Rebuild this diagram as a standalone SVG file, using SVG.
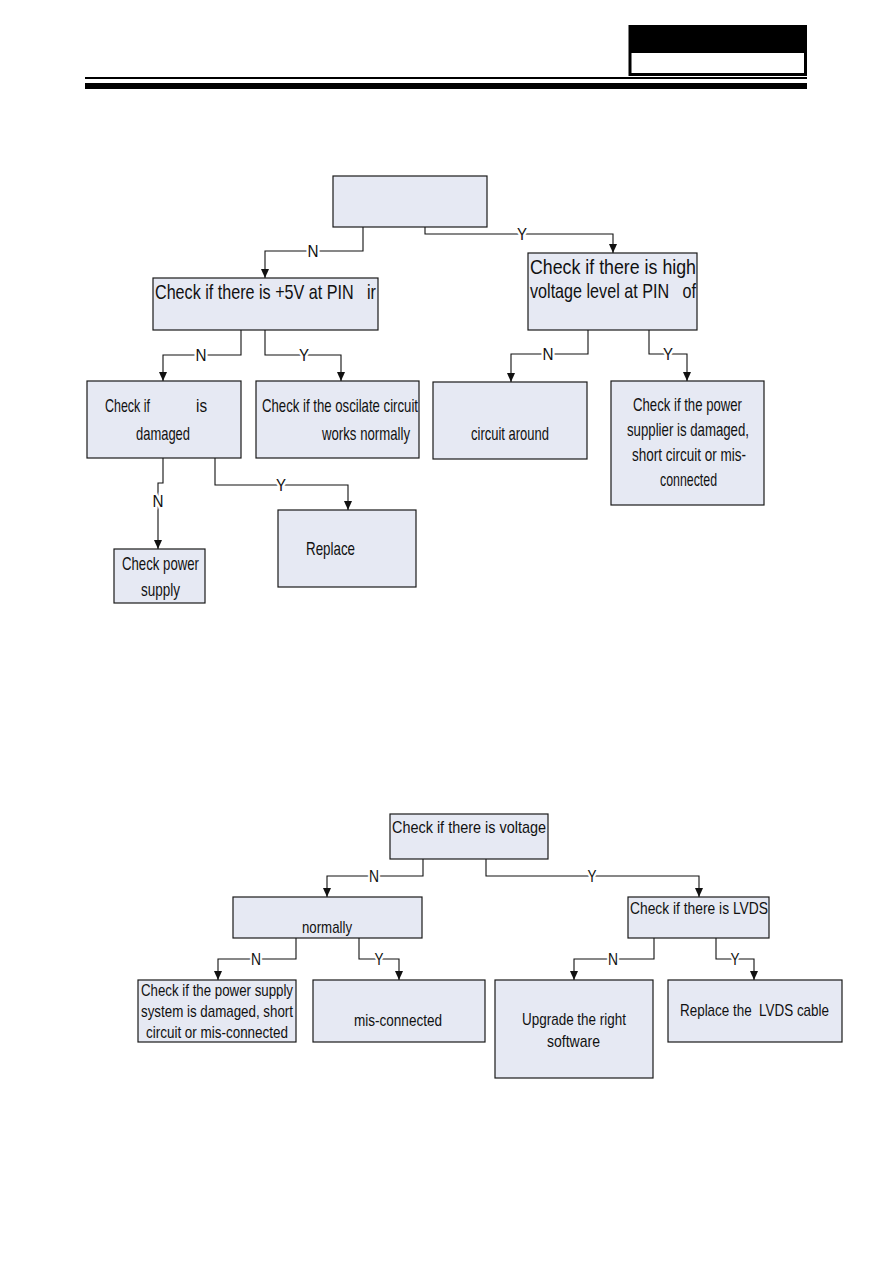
<svg xmlns="http://www.w3.org/2000/svg" width="893" height="1263" viewBox="0 0 893 1263">
<style>
.box{fill:#e6e9f3;stroke:#1a1a1a;stroke-width:1.2}
.t{font-family:"Liberation Sans",Arial,sans-serif;font-size:19px;fill:#111;white-space:pre}
.tb{font-size:21px}
.ts{font-size:17px}
.c{fill:none;stroke:#111;stroke-width:1.1;marker-end:url(#ah)}
.lb{font-family:"Liberation Sans",Arial,sans-serif;font-size:17px;fill:#111;text-anchor:middle;stroke:#fff;stroke-width:5;paint-order:stroke}
</style>
<defs>
<marker id="ah" markerWidth="9" markerHeight="8" refX="9" refY="4" orient="auto" markerUnits="userSpaceOnUse" viewBox="0 0 9 8">
<path d="M0,0 L9,4 L0,8 Z" fill="#111"/>
</marker>
</defs>
<rect width="893" height="1263" fill="#fff"/>
<g id="header">
<rect x="630" y="26.5" width="175.5" height="48" fill="#fff" stroke="#000" stroke-width="3"/>
<rect x="629" y="25" width="178" height="28" fill="#000"/>
<rect x="85" y="77" width="722" height="2" fill="#000"/>
<rect x="85" y="83" width="722" height="6" fill="#000"/>
</g>
<g id="connectors">
<polyline class="c" points="363,227 363,251 265,251 265,278"/>
<polyline class="c" points="425,227 425,234 613,234 613,253"/>
<polyline class="c" points="241,330 241,355 163,355 163,381"/>
<polyline class="c" points="265,330 265,355 341,355 341,381"/>
<polyline class="c" points="588,330 588,354 511,354 511,382"/>
<polyline class="c" points="649,330 649,354 687,354 687,381"/>
<polyline class="c" points="163,458 163,483 158,483 158,549"/>
<polyline class="c" points="215,458 215,485 348,485 348,510"/>
<polyline class="c" points="423,859 423,876 327,876 327,897"/>
<polyline class="c" points="486,859 486,876 699,876 699,897"/>
<polyline class="c" points="296,938 296,959 218,959 218,980"/>
<polyline class="c" points="359,938 359,959 399,959 399,980"/>
<polyline class="c" points="654,938 654,959 574,959 574,980"/>
<polyline class="c" points="716,938 716,959 754,959 754,980"/>
<text class="lb" x="313" y="257" textLength="11" lengthAdjust="spacingAndGlyphs">N</text>
<text class="lb" x="522" y="240" textLength="10" lengthAdjust="spacingAndGlyphs">Y</text>
<text class="lb" x="201" y="361" textLength="11" lengthAdjust="spacingAndGlyphs">N</text>
<text class="lb" x="304" y="361" textLength="10" lengthAdjust="spacingAndGlyphs">Y</text>
<text class="lb" x="548" y="360" textLength="11" lengthAdjust="spacingAndGlyphs">N</text>
<text class="lb" x="668" y="360" textLength="10" lengthAdjust="spacingAndGlyphs">Y</text>
<text class="lb" x="158" y="507" textLength="11" lengthAdjust="spacingAndGlyphs">N</text>
<text class="lb" x="281" y="491" textLength="10" lengthAdjust="spacingAndGlyphs">Y</text>
<text class="lb" x="374" y="882" textLength="10" lengthAdjust="spacingAndGlyphs">N</text>
<text class="lb" x="592" y="882" textLength="9" lengthAdjust="spacingAndGlyphs">Y</text>
<text class="lb" x="256" y="965" textLength="10" lengthAdjust="spacingAndGlyphs">N</text>
<text class="lb" x="379" y="965" textLength="9" lengthAdjust="spacingAndGlyphs">Y</text>
<text class="lb" x="613" y="965" textLength="10" lengthAdjust="spacingAndGlyphs">N</text>
<text class="lb" x="735" y="965" textLength="9" lengthAdjust="spacingAndGlyphs">Y</text>
</g>
<g id="nodeA"><rect class="box" x="333" y="176" width="154" height="51"/></g>
<g id="nodeB"><rect class="box" x="153" y="278" width="225" height="52"/>
<text class="t tb" x="155" y="299" textLength="221" lengthAdjust="spacingAndGlyphs">Check if there is +5V at PIN   ir</text></g>
<g id="nodeC"><rect class="box" x="528" y="253" width="169" height="77"/>
<text class="t tb" x="530" y="274" textLength="166" lengthAdjust="spacingAndGlyphs">Check if there is high</text>
<text class="t tb" x="530" y="298" textLength="166" lengthAdjust="spacingAndGlyphs">voltage level at PIN   of</text></g>
<g id="nodeD"><rect class="box" x="87" y="381" width="154" height="77"/>
<text class="t" x="105" y="412" textLength="45" lengthAdjust="spacingAndGlyphs">Check if</text>
<text class="t" x="196" y="412" textLength="11" lengthAdjust="spacingAndGlyphs">is</text>
<text class="t" x="136" y="440" textLength="54" lengthAdjust="spacingAndGlyphs">damaged</text></g>
<g id="nodeE"><rect class="box" x="256" y="381" width="163" height="77"/>
<text class="t" x="262" y="412" textLength="156" lengthAdjust="spacingAndGlyphs">Check if the oscilate circuit</text>
<text class="t" x="322" y="440" textLength="88" lengthAdjust="spacingAndGlyphs">works normally</text></g>
<g id="nodeF"><rect class="box" x="433" y="382" width="154" height="77"/>
<text class="t" x="471" y="440" textLength="78" lengthAdjust="spacingAndGlyphs">circuit around</text></g>
<g id="nodeG"><rect class="box" x="611" y="381" width="153" height="124"/>
<text class="t" x="633" y="411" textLength="109" lengthAdjust="spacingAndGlyphs">Check if the power</text>
<text class="t" x="627" y="436" textLength="122" lengthAdjust="spacingAndGlyphs">supplier is damaged,</text>
<text class="t" x="632" y="461" textLength="114" lengthAdjust="spacingAndGlyphs">short circuit or mis-</text>
<text class="t" x="660" y="486" textLength="57" lengthAdjust="spacingAndGlyphs">connected</text></g>
<g id="nodeH"><rect class="box" x="114" y="549" width="91" height="54"/>
<text class="t" x="122" y="570" textLength="77" lengthAdjust="spacingAndGlyphs">Check power</text>
<text class="t" x="141" y="596" textLength="39" lengthAdjust="spacingAndGlyphs">supply</text></g>
<g id="nodeI"><rect class="box" x="278" y="510" width="138" height="77"/>
<text class="t" x="306" y="555" textLength="49" lengthAdjust="spacingAndGlyphs">Replace</text></g>
<g id="nodeJ"><rect class="box" x="390" y="814" width="158" height="45"/>
<text class="t ts" x="392" y="833" textLength="154" lengthAdjust="spacingAndGlyphs">Check if there is voltage</text></g>
<g id="nodeK"><rect class="box" x="233" y="897" width="189" height="41"/>
<text class="t ts" x="302" y="933" textLength="50" lengthAdjust="spacingAndGlyphs">normally</text></g>
<g id="nodeL"><rect class="box" x="138" y="980" width="158" height="62"/>
<text class="t ts" x="141" y="996" textLength="152" lengthAdjust="spacingAndGlyphs">Check if the power supply</text>
<text class="t ts" x="141" y="1017" textLength="152" lengthAdjust="spacingAndGlyphs">system is damaged, short</text>
<text class="t ts" x="146" y="1038" textLength="142" lengthAdjust="spacingAndGlyphs">circuit or mis-connected</text></g>
<g id="nodeM"><rect class="box" x="313" y="980" width="172" height="62"/>
<text class="t ts" x="354" y="1026" textLength="88" lengthAdjust="spacingAndGlyphs">mis-connected</text></g>
<g id="nodeN"><rect class="box" x="628" y="897" width="141" height="41"/>
<text class="t ts" x="630" y="914" textLength="138" lengthAdjust="spacingAndGlyphs">Check if there is LVDS</text></g>
<g id="nodeO"><rect class="box" x="495" y="980" width="158" height="98"/>
<text class="t ts" x="522" y="1025" textLength="104" lengthAdjust="spacingAndGlyphs">Upgrade the right</text>
<text class="t ts" x="547" y="1047" textLength="53" lengthAdjust="spacingAndGlyphs">software</text></g>
<g id="nodeP"><rect class="box" x="668" y="980" width="174" height="62"/>
<text class="t ts" x="680" y="1016" textLength="149" lengthAdjust="spacingAndGlyphs">Replace the  LVDS cable</text></g>
</svg>
